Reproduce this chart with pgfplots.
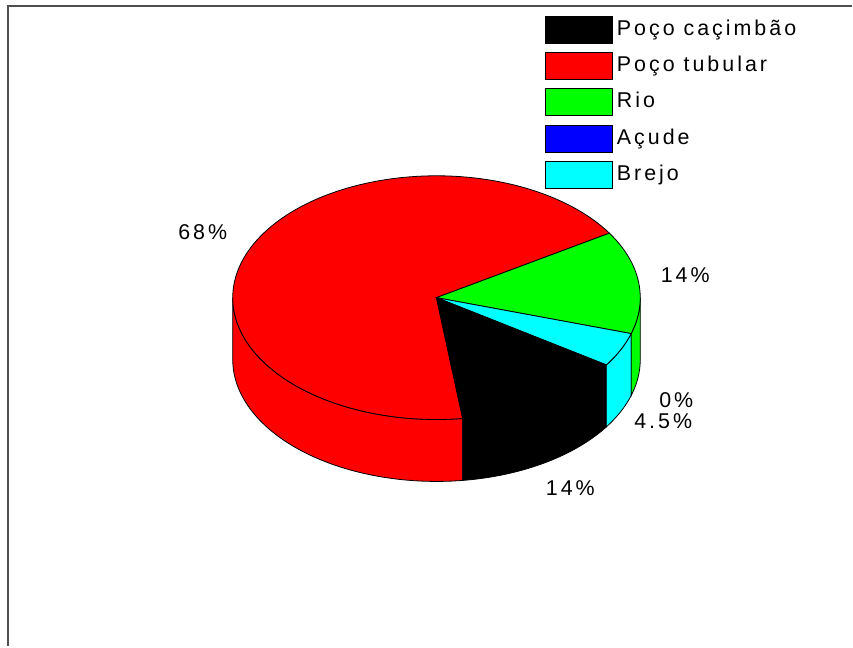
\documentclass[border=0pt]{standalone}
\usepackage{pgfplots}
\pgfplotsset{compat=1.18}
\usepackage{fontspec}
\setmainfont[LetterSpace=14]{Liberation Sans}
\definecolor{pRed}{RGB}{255,0,0}
\definecolor{pGreen}{RGB}{0,255,0}
\definecolor{pBlue}{RGB}{0,0,255}
\definecolor{pCyan}{RGB}{0,255,255}
\definecolor{frameGray}{RGB}{80,80,80}
% shares (percent)
\def\pA{13.64}% Poco cacimbao
\def\pB{68.18}% Poco tubular
\def\pC{13.64}% Rio
\def\pD{0}% Acude
\def\pE{4.55}% Brejo
\pgfmathsetmacro\sA{-33.5}%
\pgfmathsetmacro\eA{\sA-3.6*\pA}%
\pgfmathsetmacro\eB{\eA-3.6*\pB}%
\pgfmathsetmacro\eC{\eB-3.6*\pC}%
\pgfmathsetmacro\eD{\eC-3.6*\pD}%
\pgfmathsetmacro\eE{\eD-3.6*\pE}%
\pgfmathsetmacro\wD{\eD+360}%
\pgfmathsetmacro\wE{\eE+360}%
\begin{document}
\begin{tikzpicture}[font=\fontsize{21.5}{25}\selectfont]
\begin{axis}[
  x=1bp, y=1bp, xmin=0, xmax=853, ymin=0, ymax=647,
  axis lines=none, xtick=\empty, ytick=\empty, clip=false, scale only axis,
  legend image code/.code={\draw[#1, line width=1bp] (0bp,-13.5bp) rectangle (68bp,13.5bp);},
  legend style={at={(axis cs:545,631)}, anchor=north west, draw=none, fill=none,
    inner sep=0pt, row sep=8.2bp, legend cell align=left,
    nodes={inner xsep=3.5bp, inner ysep=3bp, text height=16bp, text depth=5bp}},
]
\path (0,0) rectangle (853,647);
% side walls
\addplot[fill=pRed, draw=black, line width=0.8bp, domain=-180:\eA, samples=60, forget plot]
  ({437+204*cos(x)},{287+122*sin(x)}) -- ({437+204*cos(\eA)},{349+122*sin(\eA)})
  arc[start angle=\eA, end angle=-180, x radius=204bp, y radius=122bp] -- cycle;
\addplot[fill=black, draw=black, line width=0.8bp, domain=\eA:\sA, samples=40, forget plot]
  ({437+204*cos(x)},{287+122*sin(x)}) -- ({437+204*cos(\sA)},{349+122*sin(\sA)})
  arc[start angle=\sA, end angle=\eA, x radius=204bp, y radius=122bp] -- cycle;
\addplot[fill=pCyan, draw=black, line width=0.8bp, domain=\wE:\wD, samples=20, forget plot]
  ({437+204*cos(x)},{287+122*sin(x)}) -- ({437+204*cos(\wD)},{349+122*sin(\wD)})
  arc[start angle=\wD, end angle=\wE, x radius=204bp, y radius=122bp] -- cycle;
\addplot[fill=pGreen, draw=black, line width=0.8bp, domain=\wD:0, samples=20, forget plot]
  ({437+204*cos(x)},{287+122*sin(x)}) -- ({437+204},{349})
  arc[start angle=0, end angle=\wD, x radius=204bp, y radius=122bp] -- cycle;
% top faces
\addplot[fill=pRed, draw=black, line width=0.8bp, domain=\eB:\eA, samples=120, forget plot]
  ({437+204*cos(x)},{349+122*sin(x)}) -- (437,349) -- cycle;
\addplot[fill=pGreen, draw=black, line width=0.8bp, domain=\eC:\eB, samples=40, forget plot]
  ({437+204*cos(x)},{349+122*sin(x)}) -- (437,349) -- cycle;
\addplot[fill=pCyan, draw=black, line width=0.8bp, domain=\eE:\eD, samples=20, forget plot]
  ({437+204*cos(x)},{349+122*sin(x)}) -- (437,349) -- cycle;
\addplot[fill=black, draw=black, line width=0.8bp, domain=\eA:\sA, samples=40, forget plot]
  ({437+204*cos(x)},{349+122*sin(x)}) -- (437,349) -- cycle;
% legend
\addlegendimage{fill=black, draw=black}
\addlegendentry{Poço caçimbão}
\addlegendimage{fill=pRed, draw=black}
\addlegendentry{Poço tubular}
\addlegendimage{fill=pGreen, draw=black}
\addlegendentry{Rio}
\addlegendimage{fill=pBlue, draw=black}
\addlegendentry{Açude}
\addlegendimage{fill=pCyan, draw=black}
\addlegendentry{Brejo}
% labels
\node[inner sep=0pt] at (203,415) {68\%};
\node[inner sep=0pt] at (686,372) {14\%};
\node[inner sep=0pt] at (677,246) {0\%};
\node[inner sep=0pt] at (664,225) {4.5\%};
\node[inner sep=0pt] at (571,158) {14\%};
% frame
\draw[frameGray, line width=2bp] (8.5,0) -- (8.5,640.5) -- (853,640.5);
\end{axis}
\end{tikzpicture}
\end{document}
